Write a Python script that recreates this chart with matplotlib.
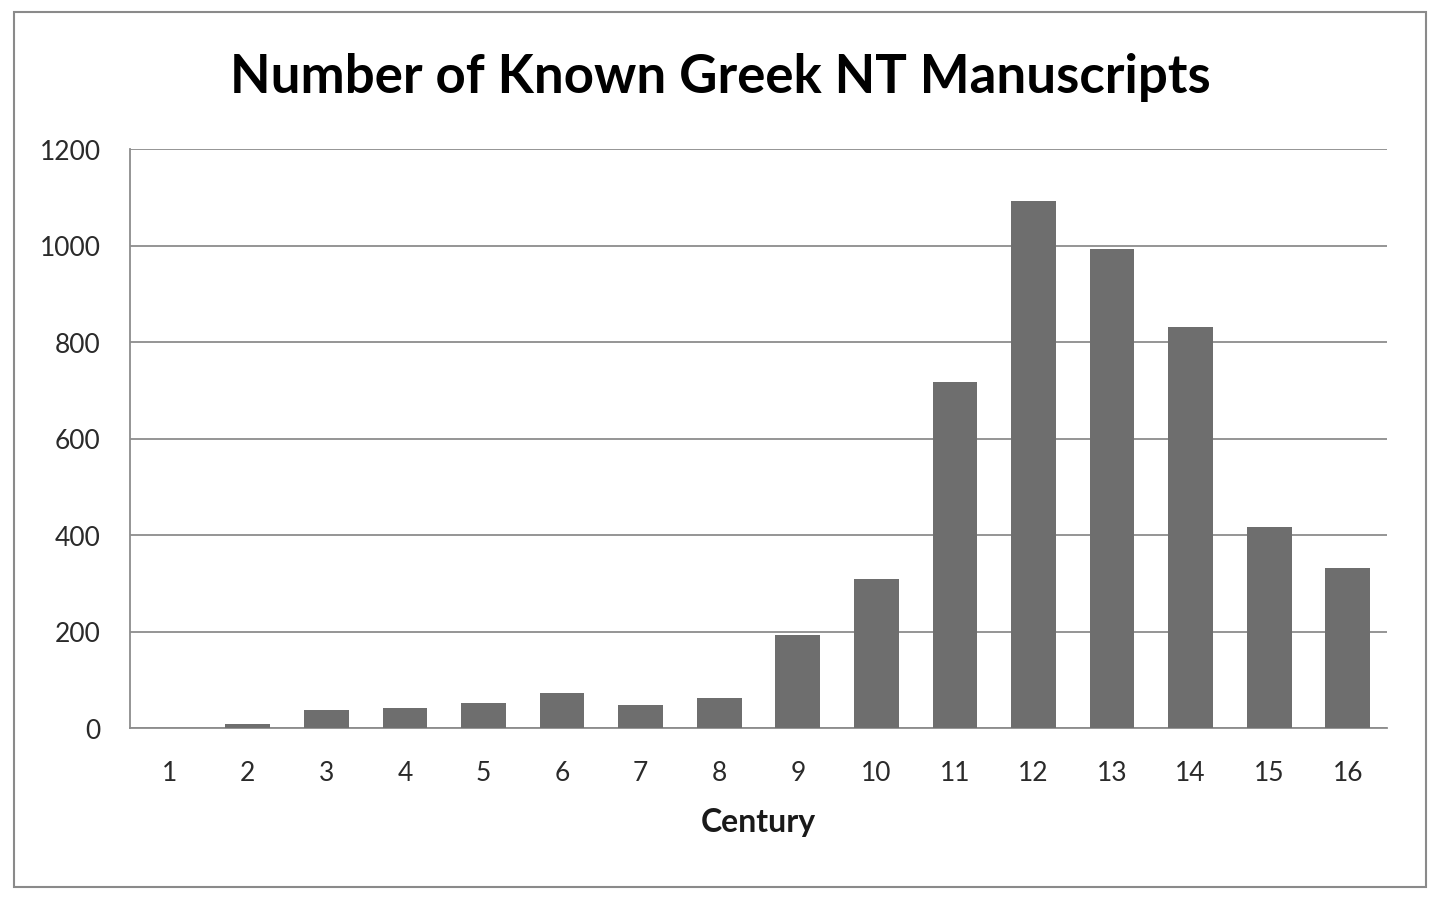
import matplotlib.pyplot as plt
from matplotlib.patches import Rectangle

centuries = [str(i) for i in range(1, 17)]
counts = [0, 9, 38, 42, 52, 73, 48, 62, 193, 308, 717, 1092, 992, 832, 417, 332]

plt.rcParams['font.family'] = ['Lato', 'DejaVu Sans']

fig = plt.figure(figsize=(14.4, 9.03), dpi=100)
# outer chart border
fig.patches.append(Rectangle((14 / 1440, 1 - 888 / 903), 1412 / 1440, 875 / 903,
                             transform=fig.transFigure, fill=False,
                             edgecolor='#8a8a8a', linewidth=1.5))

ax = fig.add_axes([130 / 1440, 1 - 729 / 903, 1257 / 1440, 579 / 903])
x = range(len(centuries))
ax.bar(x, counts, width=0.57, color='#6e6e6e', zorder=3)

ax.set_xlim(-0.5, len(centuries) - 0.5)
ax.set_ylim(0, 1200)
ax.set_yticks(range(0, 1201, 200))
ax.set_xticks(list(x))
ax.set_xticklabels(centuries)
ax.yaxis.grid(True, color='#8c8c8c', linewidth=1.3, zorder=0)
for s in ['top', 'right']:
    ax.spines[s].set_visible(False)
for s in ['left', 'bottom']:
    ax.spines[s].set_color('#8c8c8c')
    ax.spines[s].set_linewidth(1.3)
ax.tick_params(axis='both', length=0, labelsize=19, colors='#2a2a2a')
ax.tick_params(axis='x', pad=23)
ax.tick_params(axis='y', pad=21)

ax.set_xlabel('Century', fontsize=23, fontweight='bold', color='#1a1a1a', labelpad=16)
fig.text(720 / 1440, 1 - 77 / 903, 'Number of Known Greek NT Manuscripts',
         ha='center', va='center', fontsize=38, fontweight='bold', color='black')

plt.savefig('out.png', dpi=100)
